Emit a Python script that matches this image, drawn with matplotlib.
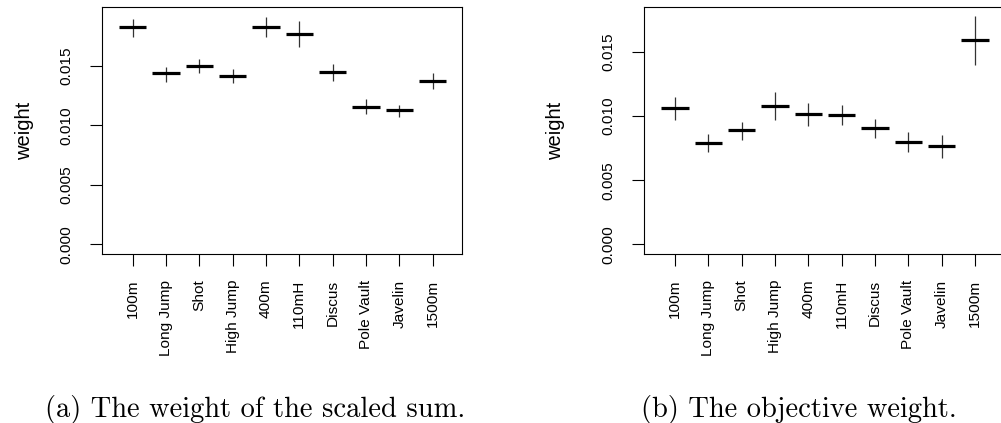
import numpy as np
import matplotlib
matplotlib.use("Agg")
import matplotlib.pyplot as plt

events = ['100m', 'Long Jump', 'Shot', 'High Jump', '400m', '110mH',
          'Discus', 'Pole Vault', 'Javelin', '1500m']

# (a) weight of the scaled sum
scaled_mid = [0.01827, 0.01440, 0.01500, 0.01419, 0.01832, 0.01773, 0.01450, 0.01156, 0.01128, 0.01377]
scaled_lo = [0.01743, 0.01366, 0.01439, 0.01355, 0.01743, 0.01658, 0.01377, 0.01094, 0.01074, 0.01305]
scaled_hi = [0.01897, 0.01495, 0.01560, 0.01476, 0.01916, 0.01882, 0.01515, 0.01221, 0.01175, 0.01439]

# (b) objective weight
obj_mid = [0.01060, 0.00794, 0.00888, 0.01080, 0.01016, 0.01008, 0.00906, 0.00799, 0.00768, 0.01591]
obj_lo = [0.00966, 0.00721, 0.00815, 0.00973, 0.00922, 0.00927, 0.00828, 0.00719, 0.00677, 0.01401]
obj_hi = [0.01146, 0.00862, 0.00958, 0.01188, 0.01104, 0.01088, 0.00979, 0.00875, 0.00856, 0.01784]

yticks = [0.0, 0.005, 0.010, 0.015]
ytick_labels = ['0.000', '0.005', '0.010', '0.015']

plt.rcParams['font.family'] = ['Liberation Sans', 'DejaVu Sans']

fig = plt.figure(figsize=(10.01, 4.23), dpi=100)
ax_a = fig.add_axes([0.1019, 0.3995, 0.3596, 0.584])
ax_b = fig.add_axes([0.6437, 0.3995, 0.3596, 0.584])


def draw_panel(ax, mid, lo, hi, ylim, label_x):
    x = np.arange(1, len(events) + 1)
    ax.vlines(x, lo, hi, color='#333333', lw=0.9)
    ax.hlines(mid, x - 0.41, x + 0.41, color='black', lw=2.3)
    ax.set_xlim(0.08, 10.88)
    ax.set_ylim(*ylim)
    ax.set_xticks(x)
    ax.set_xticklabels(events, rotation=90, va='top', ha='center', fontsize=11.1)
    ax.set_yticks(yticks)
    ax.set_yticklabels(ytick_labels, rotation=90, va='center', fontsize=11.1)
    ax.tick_params(axis='x', length=8.5, width=0.8, pad=10)
    ax.tick_params(axis='y', length=8.5, width=0.8, pad=12)
    for s in ax.spines.values():
        s.set_linewidth(0.8)
    ax.set_ylabel('weight', fontsize=14.5)
    ax.yaxis.set_label_coords(label_x, 0.5)


draw_panel(ax_a, scaled_mid, scaled_lo, scaled_hi, (-0.000817, 0.019976), -0.19)
draw_panel(ax_b, obj_mid, obj_lo, obj_hi, (-0.000758, 0.018516), -0.22)

fig.text(0.2547, 0.0142, '(a) The weight of the scaled sum.', family='cmr10',
         fontsize=20.5, ha='center', va='baseline')
fig.text(0.7977, 0.0142, '(b) The objective weight.', family='cmr10',
         fontsize=20.5, ha='center', va='baseline')

fig.savefig('out.png', dpi=100)
